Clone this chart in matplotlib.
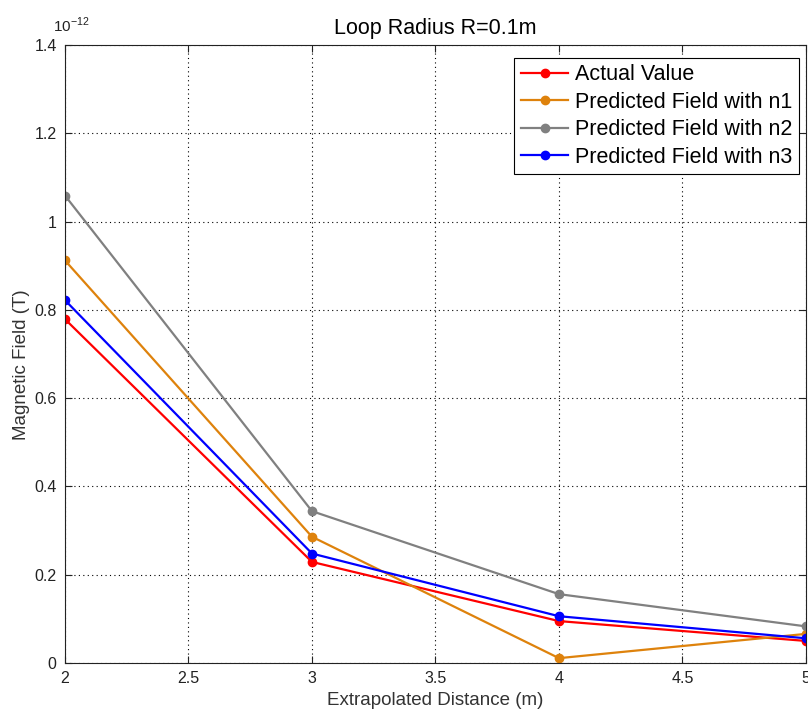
import matplotlib
matplotlib.use('Agg')
import matplotlib.pyplot as plt
from matplotlib.ticker import FuncFormatter

plt.rcParams['font.family'] = ['Liberation Sans', 'DejaVu Sans']

# data (values in units of 1e-12 T)
distance = [2, 3, 4, 5]
actual = [0.779, 0.229, 0.095, 0.050]
pred_n1 = [0.912, 0.286, 0.011, 0.066]
pred_n2 = [1.059, 0.344, 0.156, 0.083]
pred_n3 = [0.822, 0.248, 0.106, 0.056]

labels = ['Actual Value', 'Predicted Field with n1',
          'Predicted Field with n2', 'Predicted Field with n3']
colors = ['#ff0000', '#de820c', '#808080', '#0000ff']

fig = plt.figure(figsize=(8.08, 7.13), dpi=100)
ax = fig.add_axes([0.0804, 0.0701, 0.9171, 0.8668])

scale = 1e-12
for ys, lab, c in zip([actual, pred_n1, pred_n2, pred_n3], labels, colors):
    ax.plot(distance, [v * scale for v in ys], '-o', color=c, lw=1.6,
            ms=6, label=lab)

ax.set_xlim(2, 5)
ax.set_ylim(0, 1.4e-12)
ax.set_xticks([2, 2.5, 3, 3.5, 4, 4.5, 5])
ax.set_yticks([i * 0.2e-12 for i in range(8)])
ax.xaxis.set_major_formatter(FuncFormatter(lambda v, p: '%g' % v))
ax.yaxis.set_major_formatter(FuncFormatter(lambda v, p: '%g' % round(v / scale, 4)))
ax.tick_params(direction='in', top=True, right=True, labelsize=11.5, length=5,
               pad=6, colors='#222222')
ax.grid(True, linestyle=(0, (1, 3)), color='black', lw=0.8)
for s in ax.spines.values():
    s.set_color('#222222')

# exponent label, matlab style
fig.text(53 / 808, 1 - 32 / 713, r'10$^{\mathregular{-12}}$', fontsize=11, color='#222222')

ax.set_title('Loop Radius R=0.1m', fontsize=15.5, pad=8)
ax.set_xlabel('Extrapolated Distance (m)', fontsize=13.5, color='#333333', labelpad=4)
ax.set_ylabel('Magnetic Field (T)', fontsize=13.5, color='#333333')
ax.yaxis.set_label_coords(-0.047, 0.482)

leg = ax.legend(loc='upper right', bbox_to_anchor=(0.99, 0.979), fontsize=15.5,
                fancybox=False, framealpha=1, edgecolor='black',
                handlelength=2.2, handletextpad=0.3, borderpad=0.3,
                labelspacing=0.3, borderaxespad=0)
leg.get_frame().set_linewidth(0.8)

fig.savefig('out.png', dpi=100)
